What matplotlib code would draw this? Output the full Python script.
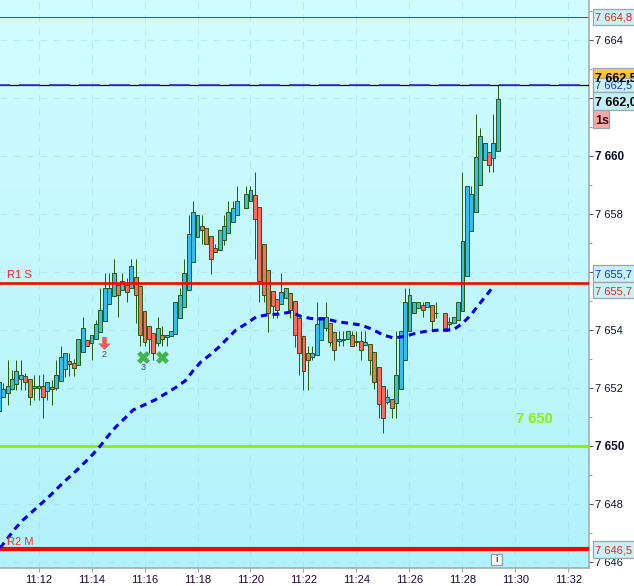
import numpy as np
import matplotlib
matplotlib.use('Agg')
import matplotlib.pyplot as plt
from matplotlib.colors import LinearSegmentedColormap
from matplotlib.patches import Rectangle
from matplotlib.path import Path

plt.rcParams['font.family'] = ['Liberation Sans', 'DejaVu Sans']

nan = np.nan

# candles, 10 s each, first one at 11:10:30
opens = [7651.22, 7651.70, 7651.82, 7651.96, 7652.12, 7652.32, 7652.40, 7652.30, 7651.99, 7652.01,
         7652.05, 7651.89, 7652.03, 7651.99, 7652.23, 7652.65, 7652.92, 7652.85, 7652.78, 7653.23,
         7653.65, 7653.54, 7653.68, 7653.92, 7654.30, 7654.89, 7655.16, 7655.54, 7655.37, 7655.54,
         7655.44, 7655.82, 7655.51, 7654.65, 7654.13, 7653.89, 7653.54, 7653.82, 7653.75, 7653.78,
         7653.85, 7654.40, 7654.78, 7655.37, 7656.34, 7657.20, 7657.58, 7657.51, 7657.23, 7656.82,
         7656.75, 7657.09, 7657.34, 7657.72, 7657.96, nan, 7658.20, 7658.44, 7658.65, 7658.23,
         7656.96, 7656.06, 7655.34, 7655.06, 7654.89, 7655.09, 7655.27, 7654.99, 7654.40, 7653.78,
         7653.20, 7653.06, 7653.13, 7653.65, 7654.06, 7654.23, 7653.92, 7653.61, 7653.65, 7653.68,
         7653.82, 7653.61, 7653.61, 7653.48, 7653.51, 7653.23, 7652.72, 7652.06, 7651.51, 7651.61,
         7651.48, 7651.96, 7652.96, 7653.96, 7654.58, 7654.75, 7654.86, 7654.79, 7654.86, 7654.58,
         nan, 7654.58, 7654.27, 7654.23, 7654.34, 7654.65, 7655.86, 7657.41, 7658.06, 7658.99,
         7659.86, 7660.13, 7659.92, 7660.16]
highs = [7652.20, 7652.16, 7652.97, 7652.62, 7652.97, 7652.97, 7652.51, 7652.30, 7652.45, 7652.45,
         7652.49, 7652.20, 7652.28, 7652.97, 7653.45, 7653.20, 7653.20, 7652.99, 7653.68, 7654.44,
         7653.65, 7653.82, 7654.35, 7655.44, 7655.96, 7655.96, 7656.45, 7655.54, 7655.96, 7655.78,
         7656.45, 7656.45, 7655.51, 7654.65, 7654.13, 7653.89, 7654.46, 7654.12, 7653.82, 7653.96,
         7654.96, 7655.44, 7656.45, 7657.96, 7658.44, 7657.96, 7657.96, 7657.51, 7657.23, 7656.96,
         7657.44, 7657.96, 7658.44, 7658.44, 7658.96, nan, 7658.96, 7658.96, 7659.44, 7658.23,
         7656.96, 7656.06, 7655.34, 7655.06, 7655.96, 7655.44, 7655.27, 7654.99, 7654.40, 7653.78,
         7653.43, 7653.43, 7654.96, 7654.44, 7654.96, 7654.23, 7653.92, 7653.96, 7653.96, 7653.96,
         7653.96, 7653.96, 7653.96, 7653.96, 7653.51, 7653.23, 7652.72, 7652.06, 7651.96, 7651.61,
         7653.96, 7653.96, 7655.44, 7655.44, 7654.96, 7654.96, 7654.96, 7654.96, 7654.86, 7654.96,
         nan, 7654.58, 7654.44, 7654.44, 7654.96, 7659.44, 7658.96, 7658.96, 7661.44, 7660.96,
         7660.44, 7660.13, 7661.44, 7662.45]
lows = [7651.22, 7651.70, 7651.42, 7651.93, 7651.93, 7651.93, 7651.93, 7651.42, 7651.59, 7651.59,
        7650.96, 7651.59, 7651.42, 7651.93, 7652.23, 7652.39, 7652.42, 7652.42, 7652.78, 7653.23,
        7653.43, 7652.95, 7653.68, 7653.92, 7654.30, 7654.89, 7655.16, 7654.43, 7655.37, 7654.95,
        7655.44, 7654.23, 7653.43, 7653.43, 7653.20, 7652.95, 7653.43, 7653.43, 7653.43, 7653.78,
        7653.85, 7654.40, 7654.78, 7655.37, 7656.34, 7657.20, 7656.96, 7656.96, 7655.93, 7656.68,
        7656.75, 7656.93, 7657.34, 7657.72, 7657.96, nan, 7658.20, 7658.44, 7656.44, 7654.95,
        7654.95, 7653.93, 7654.40, 7654.40, 7654.89, 7655.09, 7654.40, 7653.40, 7652.43, 7651.93,
        7651.93, 7652.97, 7653.13, 7653.65, 7653.96, 7653.43, 7652.95, 7653.43, 7653.43, 7653.68,
        7653.44, 7653.44, 7652.96, 7653.48, 7652.43, 7651.96, 7650.96, 7650.44, 7651.44, 7650.96,
        7650.96, 7651.96, 7652.96, 7653.96, 7654.58, 7654.75, 7654.44, 7654.79, 7653.96, 7654.41,
        nan, 7653.96, 7653.96, 7654.23, 7654.34, 7654.65, 7655.86, 7657.41, 7658.06, 7658.99,
        7659.86, 7659.44, 7659.44, 7660.16]
closes = [7652.20, 7651.96, 7652.05, 7652.30, 7652.58, 7652.44, 7652.20, 7651.68, 7652.05, 7652.05,
          7651.68, 7652.20, 7651.96, 7652.44, 7653.06, 7653.20, 7652.82, 7652.68, 7653.68, 7654.06,
          7653.45, 7653.82, 7654.20, 7654.68, 7655.44, 7655.44, 7655.96, 7655.20, 7655.68, 7655.30,
          7656.20, 7655.20, 7653.82, 7653.58, 7653.68, 7653.20, 7654.06, 7653.68, 7653.82, 7653.96,
          7654.96, 7655.20, 7655.96, 7657.30, 7658.06, 7657.96, 7657.44, 7656.96, 7656.44, 7656.68,
          7657.44, 7657.58, 7658.06, 7658.20, 7658.44, nan, 7658.68, 7658.82, 7657.82, 7655.68,
          7655.20, 7654.57, 7654.82, 7654.68, 7655.30, 7655.44, 7654.68, 7653.82, 7653.20, 7652.58,
          7652.96, 7653.20, 7654.20, 7654.44, 7654.44, 7653.58, 7653.30, 7653.68, 7653.68, 7653.96,
          7653.44, 7653.58, 7653.30, 7653.58, 7652.96, 7652.20, 7651.44, 7650.96, 7651.68, 7651.30,
          7652.44, 7653.96, 7654.96, 7655.20, 7654.96, 7654.96, 7654.68, 7654.96, 7654.30, 7654.58,
          nan, 7653.96, 7654.20, 7654.44, 7654.96, 7657.06, 7658.96, 7658.68, 7659.96, 7660.68,
          7660.44, 7659.68, 7660.44, 7661.96]

# dashed average, minutes after 11:00 and price
ma_minutes = [10.55, 10.85, 11.11, 11.42, 11.75, 12.09, 12.43, 12.77, 13.08, 13.42, 13.72, 14.06, 14.36,
              14.62, 14.92, 15.23, 15.57, 15.98, 16.40, 16.77, 17.15, 17.53, 17.83, 18.13, 18.47, 18.81,
              19.11, 19.45, 19.83, 20.21, 20.62, 21.08, 21.53, 21.94, 22.40, 22.85, 23.30, 23.64, 24.17,
              24.58, 25.00, 25.41, 25.87, 26.28, 26.74, 27.19, 27.64, 27.98, 28.32, 28.58, 28.85, 29.15]
ma_values = [7646.48, 7646.83, 7647.14, 7647.45, 7647.72, 7648.00, 7648.28, 7648.59, 7648.86, 7649.14,
             7649.41, 7649.72, 7650.03, 7650.34, 7650.66, 7650.93, 7651.24, 7651.41, 7651.59, 7651.79,
             7652.00, 7652.24, 7652.59, 7652.90, 7653.14, 7653.41, 7653.69, 7654.00, 7654.21, 7654.45,
             7654.52, 7654.55, 7654.62, 7654.45, 7654.38, 7654.38, 7654.28, 7654.24, 7654.17, 7654.03,
             7653.83, 7653.72, 7653.79, 7653.90, 7653.97, 7654.00, 7654.00, 7654.21, 7654.52, 7654.83,
             7655.14, 7655.48]

time_ticks = [12, 14, 16, 18, 20, 22, 24, 26, 28, 30, 32]
time_labels = ['11:12', '11:14', '11:16', '11:18', '11:20', '11:22', '11:24', '11:26', '11:28', '11:30', '11:32']
price_ticks = [7646, 7648, 7650, 7652, 7654, 7656, 7658, 7660, 7662, 7664]
price_labels = ['7 646', '7 648', '7 650', '7 652', '7 654', '', '7 658', '7 660', '', '7 664']
minor_ticks = [7647, 7649, 7651, 7653, 7655, 7657, 7659, 7661, 7663, 7665]

level_top = 7664.8
level_high = 7662.45
level_r1 = 7655.62
level_green = 7650.0
level_r2 = 7646.45

W, H = 634, 586
DARK = '#2b5e12'
BLUE = '#36bdec'
RED = '#fa6b60'

fig = plt.figure(figsize=(W / 100, H / 100), dpi=100, facecolor='white')
ax = fig.add_axes([0, 1 - 568 / H, 588.5 / W, 568 / H])

x0, x1 = 10.547, 32.755
y0, y1 = 7645.79, 7665.38

bg = LinearSegmentedColormap.from_list('bg', ['#d2fdff', '#b1f2fb'])
ax.imshow(np.linspace(0, 1, 256)[:, None], cmap=bg, aspect='auto', extent=[x0, x1, y0, y1], zorder=0)

ax.set_xlim(x0, x1)
ax.set_ylim(y0, y1)

ax.grid(True, which='major', color='#a5dde6', lw=0.8, ls=(0, (6, 6)), alpha=0.55)
ax.set_axisbelow(True)

minutes = 10.5 + np.arange(len(opens)) / 6
o = np.array(opens)
h = np.array(highs)
l = np.array(lows)
c = np.array(closes)
up = c >= o

ax.vlines(minutes, l, h, color=DARK, lw=0.72, zorder=3, snap=True)
ax.bar(minutes[up], (c - o)[up], bottom=o[up], width=0.15, color=BLUE, edgecolor=DARK, lw=0.72,
       zorder=4, snap=True)
ax.bar(minutes[~up], (c - o)[~up], bottom=o[~up], width=0.15, color=RED, edgecolor=DARK, lw=0.72,
       zorder=4, snap=True)

# levels
ax.axhline(level_top, color='#5b5a3c', lw=0.75, zorder=2)
ax.axhline(level_high, color='black', lw=0.9, zorder=5)
ax.axhline(level_high, color='#3333d6', lw=1.2, ls=(6.6, (12.6, 5.4)), zorder=6)
ax.axhline(level_r1, color='#ff0000', lw=1.9, zorder=5)
ax.axhline(level_green, color='#88ee00', lw=1.9, zorder=5)
ax.axhline(level_r2, color='#ff0000', lw=3.0, zorder=5)

ax.plot(ma_minutes, ma_values, color='#0000ee', lw=2.2, ls=(0, (2.2, 1.65)), zorder=7)

ax.text(10.82, 7655.73, 'R1 S', color='#ff2020', fontsize=8, va='bottom', ha='left', zorder=8)
ax.text(10.82, 7646.50, 'R2 M', color='#f03030', fontsize=8, va='bottom', ha='left', zorder=8)
ax.text(30.7, 7650.93, '7 650', color='#8cf000', fontsize=10.5, fontweight='bold', va='center', ha='center', zorder=8)

# trade marks
arrow = Path([(-0.35, 1), (0.35, 1), (0.35, 0), (1, 0), (0, -1), (-1, 0), (-0.35, 0), (-0.35, 1)], closed=True)
ax.scatter([14.47], [7653.55], marker=arrow, s=85, color='#f4595a', zorder=8, linewidths=0)
ax.scatter([15.94, 16.66], [7653.07, 7653.07], marker='X', s=85, color='#3fb54a', zorder=8, linewidths=0)
ax.text(14.47, 7653.14, '2', color='#34506a', fontsize=6.5, ha='center', va='center', zorder=8)
ax.text(15.94, 7652.69, '3', color='#34506a', fontsize=6.5, ha='center', va='center', zorder=8)

ax.yaxis.tick_right()
ax.set_yticks(price_ticks)
ax.set_yticklabels(price_labels, fontsize=8, color='#101030')
ax.set_yticks(minor_ticks, minor=True)
ax.set_xticks(time_ticks)
ax.set_xticklabels(time_labels, fontsize=8, color='#180830')
for lab in ax.get_yticklabels():
    if lab.get_text() in ('7 650', '7 660'):
        lab.set_fontweight('bold')
        lab.set_fontsize(8.5)
ax.tick_params(axis='y', which='major', length=3.0, width=0.8, color='#505858', pad=1.5)
ax.tick_params(axis='y', which='minor', length=2.0, width=0.8, color='#9aa8ab')
ax.tick_params(axis='x', which='major', length=3.0, width=0.8, color='#9aa8ab', pad=2.0)
for name in ('top', 'left'):
    ax.spines[name].set_visible(False)
for name in ('right', 'bottom'):
    ax.spines[name].set_color('#9aa8ab')
    ax.spines[name].set_linewidth(1.1)


def box(left, top, right, bottom, face, text=None, color='black', size=8, weight='normal'):
    fig.add_artist(Rectangle((left / W, 1 - bottom / H), (right - left) / W, (bottom - top) / H,
                             transform=fig.transFigure, facecolor=face, edgecolor='#97a7aa', lw=0.9))
    if text:
        fig.text((left + 2) / W, 1 - (top + bottom) / 2 / H, text, color=color, fontsize=size,
                 fontweight=weight, va='center_baseline', ha='left')


box(593, 9, 640, 25, '#c8f2f6', '7 664,8', '#f02020')
box(593, 78, 640, 92, '#c8f2f6', '7 662,5', '#2030e0')
box(593, 92, 640, 110, '#c4eef8', '7 662,0', 'black', 9, 'bold')
box(593, 110, 609, 128, '#f8a8a8', '1s', '#301010', 9, 'bold')
box(593, 265, 640, 282, '#c8f2f6', '7 655,7', '#1030f0')
box(593, 282, 640, 298, '#c8f2f6', '7 655,7', '#f02020')
box(593, 541, 640, 558, '#c8f2f6', '7 646,5', '#f02020')

# gold label has a gradient
gold = fig.add_axes([593 / W, 1 - 87 / H, 47 / W, 19 / H])
gold.imshow(np.linspace(0, 1, 64)[:, None], aspect='auto',
            cmap=LinearSegmentedColormap.from_list('gold', ['#ffd23c', '#ffae00']))
gold.set_xticks([])
gold.set_yticks([])
for s in gold.spines.values():
    s.set_color('#97a7aa')
    s.set_linewidth(0.9)
fig.text(595 / W, 1 - 78 / H, '7 662,5', color='black', fontsize=9, fontweight='bold',
         va='center_baseline', ha='left', zorder=20)

# small info button
fig.add_artist(Rectangle((491 / W, 1 - 565 / H), 11 / W, 11 / H, transform=fig.transFigure,
                         facecolor='#f4f6f6', edgecolor='#9a9a9a', lw=0.9))
fig.text(496.5 / W, 1 - 559.5 / H, 'i', color='#555555', fontsize=6.5, fontweight='bold', ha='center', va='center')

fig.savefig('out.png', dpi=100)
